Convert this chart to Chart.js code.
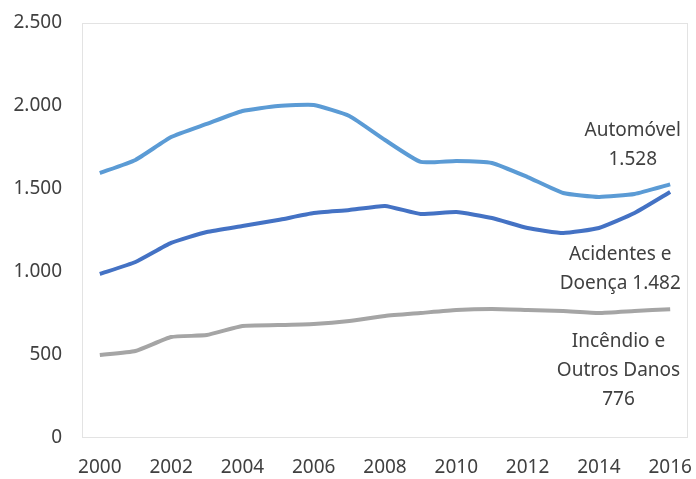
<!DOCTYPE html>
<html lang="pt">

<head>
    <meta charset="UTF-8">
    <title>Automóvel, Acidentes e Doença, Incêndio e Outros Danos</title>
    <style>
        html, body {
            margin: 0;
            padding: 0;
            background: #fff;
        }

        #wrap {
            width: 696px;
            height: 479px;
        }
    </style>
    <script src="https://cdn.jsdelivr.net/npm/chart.js"></script>
</head>

<body>
    <div id="wrap"><canvas id="chart" width="696" height="479"></canvas></div>

    <script>
        // Data
        const years = ['2000', '2001', '2002', '2003', '2004', '2005', '2006', '2007', '2008',
            '2009', '2010', '2011', '2012', '2013', '2014', '2015', '2016'];
        const automovel = [1596, 1675, 1813, 1892, 1970, 2000, 2006, 1940, 1795,
            1663, 1669, 1657, 1572, 1476, 1452, 1470, 1528];
        const acidentesDoenca = [988, 1060, 1175, 1241, 1277, 1313, 1355, 1373, 1398,
            1349, 1361, 1325, 1265, 1235, 1265, 1355, 1482];
        const incendioOutros = [500, 524, 608, 620, 675, 680, 687, 705, 735,
            753, 771, 777, 771, 765, 753, 765, 776];
        const yTicks = [0, 500, 1000, 1500, 2000, 2500];

        // text labels next to the lines
        const seriesNotes = [
            { lines: ['Automóvel', '1.528'], at: 14.95, value: 1765 },
            { lines: ['Acidentes e', 'Doença 1.482'], at: 14.6, value: 1020 },
            { lines: ['Incêndio e', 'Outros Danos', '776'], at: 14.55, value: 405 }
        ];

        const textColor = '#404040';
        const fontFamily = '"Noto Sans", "Open Sans", sans-serif';

        const fmt = v => v.toLocaleString('de-DE');

        const framePlugin = {
            id: 'frame',
            beforeDatasetsDraw(chart) {
                const { ctx, chartArea: a } = chart;
                ctx.save();
                ctx.strokeStyle = '#e3e3e3';
                ctx.lineWidth = 1;
                ctx.strokeRect(a.left + 0.5, a.top + 0.5, a.right - a.left - 1, a.bottom - a.top - 1);
                ctx.restore();
            }
        };

        const notesPlugin = {
            id: 'notes',
            afterDatasetsDraw(chart) {
                const { ctx, scales } = chart;
                ctx.save();
                ctx.fillStyle = textColor;
                ctx.font = '19px ' + fontFamily;
                ctx.textAlign = 'center';
                ctx.textBaseline = 'middle';
                seriesNotes.forEach(n => {
                    const x = scales.x.getPixelForValue(n.at);
                    const y = scales.y.getPixelForValue(n.value);
                    const lh = 29;
                    const start = y - (n.lines.length - 1) * lh / 2;
                    n.lines.forEach((t, i) => ctx.fillText(t, x, start + i * lh));
                });
                ctx.restore();
            }
        };

        new Chart(document.getElementById('chart'), {
            type: 'line',
            data: {
                labels: years,
                datasets: [
                    {
                        label: 'Automóvel',
                        data: automovel,
                        borderColor: '#5b9bd5',
                        borderWidth: 4,
                        pointRadius: 0,
                        tension: 0.15
                    },
                    {
                        label: 'Acidentes e Doença',
                        data: acidentesDoenca,
                        borderColor: '#4472c4',
                        borderWidth: 4,
                        pointRadius: 0,
                        tension: 0.15
                    },
                    {
                        label: 'Incêndio e Outros Danos',
                        data: incendioOutros,
                        borderColor: '#a5a5a5',
                        borderWidth: 4,
                        pointRadius: 0,
                        tension: 0.15
                    }
                ]
            },
            options: {
                responsive: false,
                animation: false,
                layout: { padding: { top: 23, right: 8, left: 0, bottom: 0 } },
                plugins: {
                    legend: { display: false },
                    tooltip: { enabled: false }
                },
                scales: {
                    x: {
                        offset: true,
                        grid: { display: false, drawTicks: false },
                        border: { display: false },
                        ticks: {
                            color: textColor,
                            font: { family: fontFamily, size: 19 },
                            padding: 18,
                            maxRotation: 0,
                            autoSkip: false,
                            callback: function (v, i) { return i % 2 === 0 ? years[i] : ''; }
                        },
                        afterFit(s) {
                            s.height = 41;
                            s.paddingLeft = 0;
                            s.paddingRight = 0;
                        }
                    },
                    y: {
                        min: 0,
                        max: 2500,
                        grid: { display: false, drawTicks: false },
                        border: { display: false },
                        afterBuildTicks(s) { s.ticks = yTicks.map(v => ({ value: v })); },
                        ticks: {
                            color: textColor,
                            font: { family: fontFamily, size: 19 },
                            padding: 20,
                            callback: v => fmt(v)
                        },
                        afterFit(s) {
                            s.width = 82;
                            s.paddingTop = 0;
                            s.paddingBottom = 0;
                        }
                    }
                }
            },
            plugins: [framePlugin, notesPlugin]
        });
    </script>
</body>

</html>
